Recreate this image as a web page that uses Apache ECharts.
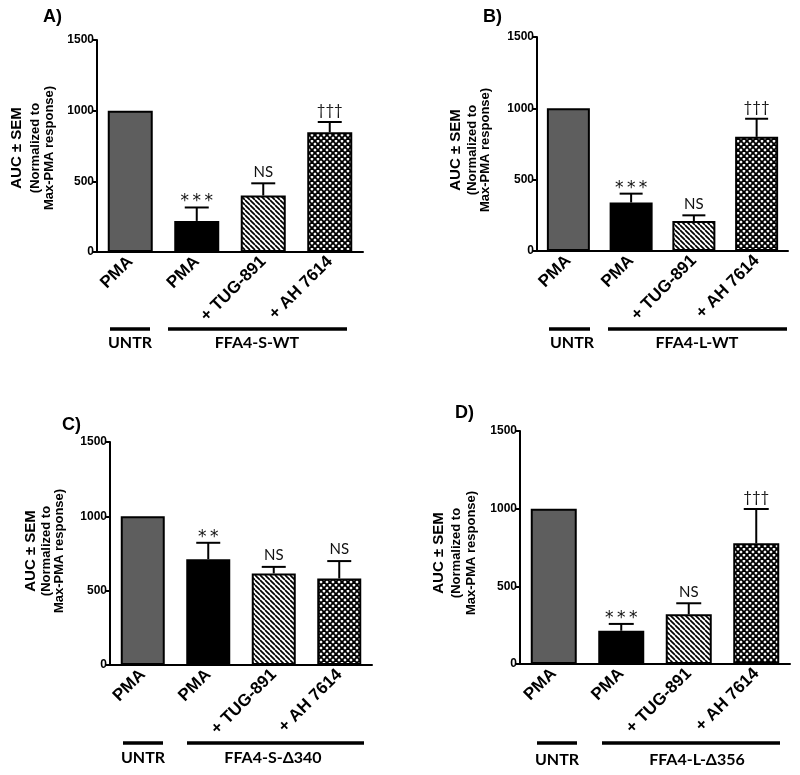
<!DOCTYPE html>
<html>
<head>
<meta charset="utf-8">
<script src="https://cdn.jsdelivr.net/npm/echarts@6/dist/echarts.min.js"></script>
<style>
html,body{margin:0;padding:0;background:#fff;}
#chart{width:800px;height:775px;}
</style>
</head>
<body>
<div id="chart"></div>
<script>
// ---- Data ----
const categories = ['PMA', 'PMA', '+ TUG-891', '+ AH 7614'];
const yTicks = [0, 500, 1000, 1500];

const valuesA = [1000, 220, 400, 847];
const errorsA = [0, 95, 86, 73];
const marksA = ['', '***', 'NS', '†††'];

const valuesB = [1000, 340, 210, 800];
const errorsB = [0, 62, 40, 127];
const marksB = ['', '***', 'NS', '†††'];

const valuesC = [1000, 712, 616, 582];
const errorsC = [0, 110, 44, 117];
const marksC = ['', '**', 'NS', 'NS'];

const valuesD = [1000, 214, 320, 777];
const errorsD = [0, 44, 71, 221];
const marksD = ['', '***', 'NS', '†††'];

const panelLetters = ['A)', 'B)', 'C)', 'D)'];
const groupLabelsA = ['UNTR', 'FFA4-S-WT'];
const groupLabelsB = ['UNTR', 'FFA4-L-WT'];
const groupLabelsC = ['UNTR', 'FFA4-S-Δ340'];
const groupLabelsD = ['UNTR', 'FFA4-L-Δ356'];
const yTitle = ['AUC ± SEM', '(Normalized to', 'Max-PMA response)'];

// ---- Patterns ----
function hatchPattern() {
  const s = 5, c = document.createElement('canvas');
  c.width = s; c.height = s;
  const g = c.getContext('2d');
  g.fillStyle = '#fff'; g.fillRect(0, 0, s, s);
  g.strokeStyle = '#000'; g.lineWidth = 1.7;
  for (let k = -1; k <= 1; k++) {
    g.beginPath(); g.moveTo(k * s, 0); g.lineTo(k * s + s, s); g.stroke();
  }
  return c;
}
function crossPattern() {
  const s = 6, c = document.createElement('canvas');
  c.width = s; c.height = s;
  const g = c.getContext('2d');
  g.fillStyle = '#fff'; g.fillRect(0, 0, s, s);
  g.strokeStyle = '#000'; g.lineWidth = 1.9;
  for (let k = -1; k <= 1; k++) {
    g.beginPath(); g.moveTo(k * s, 0); g.lineTo(k * s + s, s); g.stroke();
    g.beginPath(); g.moveTo(k * s + s, 0); g.lineTo(k * s, s); g.stroke();
  }
  return c;
}
const fills = ['#5e5e5e', '#000000',
  { image: hatchPattern(), repeat: 'repeat' },
  { image: crossPattern(), repeat: 'repeat' }];

// ---- Layout ----
const panels = [
  { values: valuesA, errors: errorsA, marks: marksA, groups: groupLabelsA,
    grid: { left: 97, top: 40, width: 266, height: 212 }, barWidth: 45,
    letter: [43, 17], titleX: [17, 35, 49], titleY: 148,
    lines: [[110, 150], [168, 347]], lineY: 329, labelX: [130, 257], labelY: 343 },
  { values: valuesB, errors: errorsB, marks: marksB, groups: groupLabelsB,
    grid: { left: 537, top: 37, width: 251, height: 214 }, barWidth: 43,
    letter: [483, 17], titleX: [456, 472, 485], titleY: 150,
    lines: [[549, 590], [608, 787]], lineY: 329, labelX: [572, 697], labelY: 343 },
  { values: valuesC, errors: errorsC, marks: marksC, groups: groupLabelsC,
    grid: { left: 110, top: 442, width: 262, height: 223 }, barWidth: 44,
    letter: [62, 425], titleX: [31, 46, 59], titleY: 551,
    lines: [[123, 163], [187, 364]], lineY: 743, labelX: [143, 273], labelY: 758 },
  { values: valuesD, errors: errorsD, marks: marksD, groups: groupLabelsD,
    grid: { left: 520, top: 431, width: 270, height: 233 }, barWidth: 46,
    letter: [455, 413], titleX: [439, 456, 471], titleY: 553,
    lines: [[537, 577], [602, 780]], lineY: 743, labelX: [557, 697], labelY: 760 }
];

const grids = [], xAxes = [], yAxes = [], series = [], graphics = [];
panels.forEach((p, i) => {
  grids.push(Object.assign({ containLabel: false }, p.grid));
  xAxes.push({
    type: 'category', gridIndex: i, data: categories,
    axisLine: { lineStyle: { color: '#000', width: 2 } },
    axisTick: { alignWithLabel: true, length: 5, lineStyle: { color: '#000', width: 2 } },
    axisLabel: { interval: 0, rotate: 45, margin: 7, color: '#000',
      fontFamily: 'Liberation Sans', fontWeight: 'bold', fontSize: 17 }
  });
  yAxes.push({
    type: 'value', gridIndex: i, min: yTicks[0], max: yTicks[yTicks.length - 1], interval: 500,
    axisLine: { show: true, lineStyle: { color: '#000', width: 2 } },
    axisTick: { show: true, length: 5, lineStyle: { color: '#000', width: 2 } },
    splitLine: { show: false },
    axisLabel: { margin: 3, color: '#000', fontFamily: 'Liberation Sans', fontWeight: 'bold', fontSize: 12,
      formatter: function (v) { return String(v); } }
  });
  series.push({
    type: 'bar', xAxisIndex: i, yAxisIndex: i, barWidth: p.barWidth, z: 2,
    data: p.values.map((v, k) => ({ value: v, itemStyle: { color: fills[k], borderColor: '#000', borderWidth: 2 } })),
    itemStyle: { borderColor: '#000', borderWidth: 2 }
  });
  const marks = p.marks, capW = Math.round(p.barWidth * 0.54);
  series.push({
    type: 'custom', xAxisIndex: i, yAxisIndex: i, z: 5,
    data: p.values.map((v, k) => [k, v, p.errors[k]]),
    renderItem: function (params, api) {
      const k = api.value(0), v = api.value(1), e = api.value(2);
      const mark = marks[params.dataIndex];
      const p0 = api.coord([k, v]);
      const p1 = api.coord([k, v + e]);
      const children = [];
      if (e > 0) {
        children.push({ type: 'line', shape: { x1: p0[0], y1: p0[1], x2: p1[0], y2: p1[1] }, style: { stroke: '#000', lineWidth: 2 } });
        children.push({ type: 'line', shape: { x1: p1[0] - capW / 2, y1: p1[1], x2: p1[0] + capW / 2, y2: p1[1] }, style: { stroke: '#000', lineWidth: 2 } });
      }
      if (mark) {
        const isStar = mark.indexOf('*') >= 0;
        children.push({ type: 'text', x: p1[0], y: isStar ? p1[1] + 3 : p1[1] - 4,
          style: { text: isStar ? mark.split('').join('\u2009') : mark, fill: '#111',
            font: isStar ? '17px "DejaVu Sans"' : '15px Lato',
            align: 'center', verticalAlign: 'bottom', textAlign: 'center', textVerticalAlign: 'bottom' } });
      }
      return { type: 'group', children: children };
    }
  });
  // panel letter
  graphics.push({ type: 'text', x: p.letter[0], y: p.letter[1],
    style: { text: panelLetters[i], font: 'bold 18px "Liberation Sans"', fill: '#000',
      align: 'left', verticalAlign: 'middle', textAlign: 'left', textVerticalAlign: 'middle' } });
  // y title
  yTitle.forEach((t, j) => {
    graphics.push({ type: 'text', x: p.titleX[j], y: p.titleY, rotation: Math.PI / 2,
      style: { text: t, font: j === 0 ? 'bold 15px "Liberation Sans"' : 'bold 13px "Liberation Sans"', fill: '#000',
        align: 'center', verticalAlign: 'middle', textAlign: 'center', textVerticalAlign: 'middle' } });
  });
  // group lines + labels
  p.lines.forEach((ln, j) => {
    graphics.push({ type: 'line', shape: { x1: ln[0], y1: p.lineY, x2: ln[1], y2: p.lineY },
      style: { stroke: '#000', lineWidth: 3.5 } });
    graphics.push({ type: 'text', x: p.labelX[j], y: p.labelY,
      style: { text: p.groups[j], font: 'bold 16px Lato', fill: '#000',
        align: 'center', verticalAlign: 'middle', textAlign: 'center', textVerticalAlign: 'middle' } });
  });
});

const chart = echarts.init(document.getElementById('chart'), null, { renderer: 'canvas' });
chart.setOption({
  animation: false,
  backgroundColor: '#fff',
  grid: grids, xAxis: xAxes, yAxis: yAxes, series: series,
  graphic: graphics
});
</script>
</body>
</html>
